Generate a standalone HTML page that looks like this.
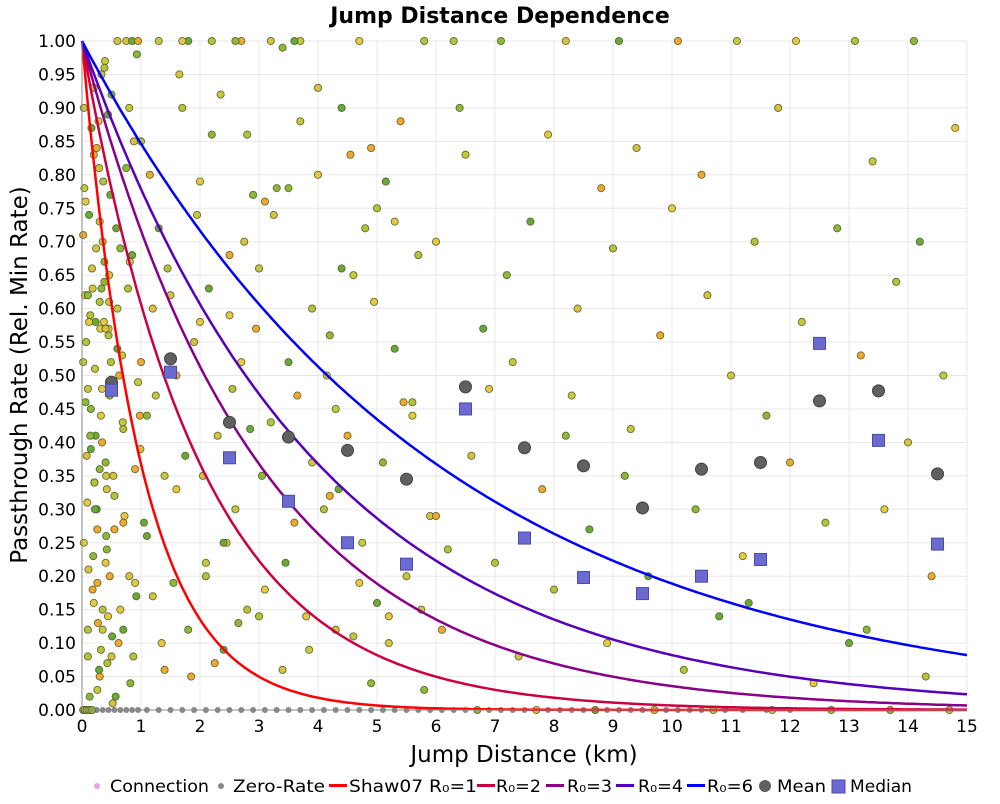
<!DOCTYPE html>
<html><head><meta charset="utf-8"><style>
body{margin:0;background:#fff;font-family:"DejaVu Sans","Liberation Sans",sans-serif}
svg text{font-family:"DejaVu Sans","Liberation Sans",sans-serif}
</style></head><body>
<svg id="c" width="1000" height="800" xmlns="http://www.w3.org/2000/svg"></svg>
<script>
const xTicks=[0,1,2,3,4,5,6,7,8,9,10,11,12,13,14,15];
const yTicks=[0,0.05,0.1,0.15,0.2,0.25,0.3,0.35,0.4,0.45,0.5,0.55,0.6,0.65,0.7,0.75,0.8,0.85,0.9,0.95,1.0];
const r0Values=[1,2,3,4,6];
const r0Colors=["#ff0000","#cc0040","#880088","#5500bb","#0000ff"];
const binCenters=[0.5,1.5,2.5,3.5,4.5,5.5,6.5,7.5,8.5,9.5,10.5,11.5,12.5,13.5,14.5];
const meanValues=[0.49,0.525,0.43,0.408,0.388,0.345,0.483,0.392,0.365,0.302,0.36,0.37,0.462,0.477,0.353];
const medianValues=[0.478,0.505,0.377,0.312,0.25,0.218,0.45,0.257,0.198,0.174,0.2,0.225,0.548,0.403,0.248];
const ptX=[0.05,0.1,0.15,0.2,0.25,0.3,0.35,0.4,0.45,0.5,0.08,0.12,0.18,0.22,0.28,0.32,0.38,0.42,0.48,0.55,0.6,0.65,0.7,0.75,0.8,0.85,0.9,0.95,0.03,0.07,0.13,0.17,0.23,0.27,0.33,0.37,0.43,0.47,0.53,0.58,0.62,0.68,0.72,0.78,0.82,0.88,0.92,0.98,0.04,0.09,0.14,0.19,0.24,0.29,0.34,0.39,0.44,0.49,0.06,0.11,0.16,0.21,0.26,0.31,0.36,0.41,0.46,0.51,0.02,0.1,0.2,0.3,0.4,0.5,0.6,0.7,0.8,0.9,
1.0,1.1,1.2,1.3,1.4,1.5,1.6,1.7,1.8,1.9,1.05,1.15,1.25,1.35,1.45,1.55,1.65,1.75,1.85,1.95,2.0,2.1,2.2,2.3,2.4,2.5,2.6,2.7,2.8,2.9,2.05,2.15,2.25,2.35,2.45,2.55,2.65,2.75,2.85,2.95,3.0,3.1,3.2,3.3,3.4,3.5,3.6,3.7,3.8,3.9,3.05,3.25,3.45,3.65,3.85,4.0,4.1,4.2,4.3,4.4,4.5,4.6,4.7,4.8,4.9,4.15,4.35,4.55,4.75,4.95,5.0,5.1,5.2,5.3,5.4,5.5,5.6,5.7,5.8,5.9,5.15,5.45,5.75,6.0,6.2,6.4,6.6,6.8,6.1,6.5,6.9,7.0,7.2,7.4,7.6,7.8,7.3,7.9,8.0,8.2,8.4,8.6,8.8,8.3,8.9,9.0,9.2,9.4,9.6,9.8,9.3,10.0,10.2,10.4,10.6,10.8,10.5,11.0,11.2,11.4,11.6,11.8,11.3,12.0,12.2,12.4,12.6,12.8,12.5,13.0,13.2,13.4,13.6,13.8,13.3,14.0,14.2,14.4,14.6,14.8,14.3,
0.3,1.2,2.4,3.1,4.3,5.2,6.3,7.1,8.2,9.1,10.1,11.1,12.1,13.1,14.1,0.6,1.8,2.7,3.7,4.7,5.8,6.7,7.7,8.7,9.7,10.7,11.7,12.7,13.7,14.7,
0.02,0.05,0.08,0.11,0.14,0.17,0.2,0.23,0.26,0.29,0.32,0.35,0.38,0.41,0.44,0.47,0.02,0.06,0.1,0.14,0.18,0.22,0.26,0.3,0.34,0.38,0.42,0.46,0.15,0.25,0.35,0.45,0.55,0.65,0.75,0.85,0.95,1.3,1.7,2.2,2.6,3.2,3.6,4.2,4.6,5.3,5.6,0.1,0.4,0.7,1.0,1.4,2.0,2.8,3.4,4.0,5.0,6.0,0.03,0.12,0.21,0.33,0.52,0.57,0.63,0.69,0.81,0.87,0.93,0.99,1.1,1.6,2.1,2.5,3.0,3.5,3.9,4.4,4.9];
const ptY=[0.62,0.12,0.45,0.83,0.3,0.05,0.7,0.22,0.56,0.92,0.38,0.74,0.18,0.51,0.88,0.09,0.64,0.33,0.77,0.27,0.6,0.15,0.42,0.81,0.2,0.68,0.36,0.49,0.25,0.55,0.02,0.66,0.41,0.13,0.95,0.58,0.07,0.47,0.35,0.72,0.1,0.53,0.29,0.63,0.04,0.85,0.17,0.44,0.78,0.31,0.59,0.23,0.69,0.06,0.4,0.97,0.14,0.52,0.46,0.21,0.87,0.34,0.03,0.57,0.79,0.26,0.65,0.11,0.71,0.48,0.16,0.61,0.37,0.08,0.54,0.28,0.9,0.19,
0.85,0.44,0.17,0.72,0.06,0.62,0.33,0.9,0.12,0.55,0.28,0.8,0.47,0.1,0.66,0.19,0.95,0.38,0.05,0.74,0.58,0.2,0.86,0.41,0.09,0.68,0.3,0.52,0.15,0.77,0.35,0.63,0.07,0.92,0.25,0.48,0.13,0.7,0.42,0.57,0.66,0.18,0.43,0.78,0.06,0.52,0.28,0.88,0.14,0.6,0.35,0.74,0.22,0.47,0.09,0.8,0.3,0.56,0.12,0.9,0.41,0.65,0.19,0.72,0.04,0.5,0.33,0.83,0.25,0.61,0.75,0.37,0.1,0.54,0.88,0.2,0.44,0.68,0.03,0.29,0.79,0.46,0.15,0.7,0.24,0.9,0.38,0.57,0.12,0.83,0.48,0.22,0.65,0.08,0.73,0.33,0.52,0.86,0.18,0.41,0.6,0.27,0.78,0.47,0.1,0.69,0.35,0.84,0.2,0.56,0.42,0.75,0.06,0.3,0.62,0.14,0.8,0.5,0.23,0.7,0.44,0.9,0.16,0.37,0.58,0.04,0.28,0.72,0.46,0.1,0.53,0.82,0.3,0.64,0.12,0.4,0.7,0.2,0.5,0.87,0.05,0.36,0.6,0.25,0.76,0.45,0.14,
1,1,1,1,1,1,1,1,1,1,1,1,1,1,1,0,0,0,0,0,0,0,0,0,0,0,0,0,0,0,
0.93,0.58,0.27,0.81,0.44,0.15,0.67,0.35,0.89,0.2,0.52,0.76,0.08,0.41,0.63,0.3,0.19,0.73,0.48,0.96,0.24,0.61,0.39,0.84,0.12,0.57,0.32,0.69,1,1,1,1,1,1,1,1,1,0.32,0.11,0.73,0.46,0.62,0.57,0.12,0.52,0.35,0.79,0.86,0.99,0.93,0.16,0.29,0.9,0.58,0.34,0.63,0.01,0.02,0.5,0.43,0.67,0.08,0.98,0.39,0.26,0.5,0.22,0.59,0.14,0.78,0.37,0.66,0.84,0.45,0.23,0.68,0.31,0.6,0.07];
const ptC=[];
for(let i=0;i<ptX.length;i++){ptC.push(i%7);}
const palette=["#e8c840","#b5c23a","#8db83a","#d8c040","#6aa83a","#f0a830","#c8c840"];
const zeroX=[0.05,0.15,0.25,0.35,0.45,0.55,0.65,0.75,0.85,0.95,1.1,1.3,1.5,1.7,1.9,2.1,2.3,2.5,2.7,2.9,3.1,3.3,3.5,3.7,3.9,4.1,4.3,4.5,4.7,4.9,5.1,5.3,5.5,5.7,5.9,6.1,6.3,6.5,6.7,6.9,7.1,7.3,7.5,7.7,7.9,8.1,8.3,8.5,8.7,8.9,9.1,9.3,9.5,9.7,9.9,10.1,10.3,10.5,10.7,10.9,11.2,11.6,12.0];

const NS="http://www.w3.org/2000/svg";
const svg=document.getElementById('c');
const L=82,R=967,T=41,B=710;
const sx=v=>L+(v-0)/(15-0)*(R-L);
const sy=v=>B-(v-0)/(1-0)*(B-T);
function mk(tag,attrs,parent){const e=document.createElementNS(NS,tag);for(const k in attrs)e.setAttribute(k,attrs[k]);(parent||svg).appendChild(e);return e;}

const bg=mk('rect',{x:L,y:T,width:R-L,height:B-T,fill:'#fff'});


const grid=mk('g',{stroke:'#e8e8e8','stroke-width':1});


xTicks.forEach(t=>mk('line',{x1:sx(t),x2:sx(t),y1:T,y2:B},grid));
yTicks.forEach(t=>mk('line',{x1:L,x2:R,y1:sy(t),y2:sy(t)},grid));

const sc=mk('g',{stroke:'#4a5a20','stroke-width':0.9,'stroke-opacity':0.85});


zeroX.forEach(x=>{mk('circle',{cx:sx(x),cy:sy(0),r:3,fill:'#888',stroke:'none'},sc);});
for(let i=0;i<ptX.length;i++){
  mk('circle',{cx:sx(ptX[i]),cy:sy(ptY[i]),r:3.6,fill:palette[ptC[i]]},sc);
}

r0Values.forEach((r0,k)=>{
  let d='';
  for(let i=0;i<=300;i++){const x=15*i/300;d+=(i?'L':'M')+sx(x).toFixed(1)+','+sy(Math.exp(-x/r0)).toFixed(1);}
  const p=mk('path',{d:d,fill:'none',stroke:r0Colors[k],'stroke-width':2.5});
  
  
});

binCenters.forEach((x,i)=>{
  const c=mk('circle',{cx:sx(x),cy:sy(meanValues[i]),r:6,fill:'#606060',stroke:'#404040','stroke-width':1});
  
  
  const s=mk('rect',{x:sx(x)-6,y:sy(medianValues[i])-6,width:12,height:12,fill:'#6a6ad0',stroke:'#4a4aa8','stroke-width':1});
  
  
});

const ax=mk('g',{stroke:'#888','stroke-width':1});


mk('line',{x1:L,x2:L,y1:T,y2:B},ax);
mk('line',{x1:L,x2:R,y1:B,y2:B},ax);
xTicks.forEach(t=>{
  const tx=mk('text',{x:sx(t),y:732,'text-anchor':'middle','font-size':17,fill:'#000'});
  tx.textContent=t;
  
  
});
yTicks.forEach(t=>{
  const tx=mk('text',{x:76,y:sy(t)+6,'text-anchor':'end','font-size':17,fill:'#000'});
  tx.textContent=t.toFixed(2);
  
  
});
const title=mk('text',{x:500,y:23,'text-anchor':'middle','font-size':22,'font-weight':'bold',fill:'#000'});
title.textContent='Jump Distance Dependence';


const xt=mk('text',{x:524,y:762,'text-anchor':'middle','font-size':23,fill:'#000'});
xt.textContent='Jump Distance (km)';


const yt=mk('text',{x:0,y:0,'text-anchor':'middle','font-size':23,fill:'#000',transform:'translate(27,375) rotate(-90)'});
yt.textContent='Passthrough Rate (Rel. Min Rate)';



const lg=mk('g',{'font-size':17,fill:'#000'});


function lt(x,w,s){const t=mk('text',{x:x,y:792,textLength:w,lengthAdjust:'spacingAndGlyphs'},lg);t.textContent=s;}
mk('circle',{cx:97,cy:786,r:3,fill:'#f4a0e8'},lg);lt(110,99,'Connection');
mk('circle',{cx:221,cy:786,r:3,fill:'#888'},lg);lt(233,92,'Zero-Rate');
const legPos=[[329,349,128,'Shaw07 R\u2080=1'],[477,496,45,'R\u2080=2'],[546,567,45,'R\u2080=3'],[616,638,45,'R\u2080=4'],[687,707,46,'R\u2080=6']];
legPos.forEach((p,k)=>{mk('rect',{x:p[0],y:784,width:18,height:3,fill:r0Colors[k]},lg);lt(p[1],p[2],p[3]);});
mk('circle',{cx:765,cy:786,r:6,fill:'#606060'},lg);lt(777,49,'Mean');
mk('rect',{x:832,y:780,width:13,height:13,fill:'#6a6ad0',stroke:'#4a4aa8'},lg);lt(850,62,'Median');
</script>
</body></html>
